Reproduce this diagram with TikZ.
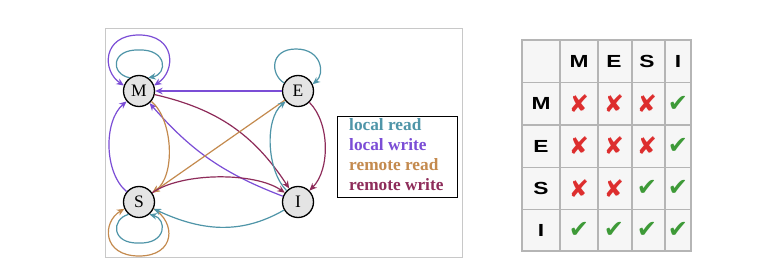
\documentclass[tikz,border=0pt]{standalone}
\usepackage{fontspec}
\setmainfont{Liberation Serif}
\newfontfamily\tabfont[FakeStretch=1.3]{Liberation Sans}
\newfontfamily\symfont{DejaVu Sans}
\usetikzlibrary{arrows.meta}
\definecolor{lrc}{HTML}{4F95A8}
\definecolor{lwc}{HTML}{7B4DD6}
\definecolor{rrc}{HTML}{C48A4E}
\definecolor{rwc}{HTML}{8E2C5A}
\definecolor{nodefill}{HTML}{E4E4E4}
\definecolor{cellfill}{HTML}{F6F6F6}
\definecolor{gridc}{HTML}{B5B5B5}
\definecolor{framec}{HTML}{C8C8C8}
\definecolor{okc}{HTML}{3E9A38}
\definecolor{noc}{HTML}{DD2E2E}
\begin{document}
\begin{tikzpicture}[x=1pt,y=1pt,
  st/.style={circle,draw=black,line width=1.3pt,fill=nodefill,minimum size=31pt,inner sep=0pt,font=\fontsize{17.5}{17.5}\selectfont},
  edge/.style={line width=1.2pt,-{Stealth[length=7.5pt,width=6.5pt]}},
  lr/.style={edge,color=lrc},
  lw/.style={edge,color=lwc},
  rr/.style={edge,color=rrc},
  rw/.style={edge,color=rwc},
  legtext/.style={anchor=west,inner sep=0pt,font=\bfseries\fontsize{17.3}{17.3}\selectfont},
  hdr/.style={inner sep=0pt,font=\tabfont\bfseries\fontsize{17.5}{17.5}\selectfont},
  yes/.style={inner sep=0pt,text=okc,font=\symfont\fontsize{24}{24}\selectfont},
  no/.style={inner sep=0pt,text=noc,font=\symfont\fontsize{24}{24}\selectfont}
]
\useasboundingbox (0,0) rectangle (764,279);
\fill[white] (0,0) rectangle (764,279);

% left panel frame
\draw[framec,line width=1pt] (105,22) rectangle (462,250);

% states
\node[st] (M) at (139,188) {M};
\node[st] (E) at (298,188) {E};
\node[st] (S) at (139,77) {S};
\node[st] (I) at (298,77) {I};

% self loops
\draw[lr] (M.125) .. controls ([shift={(-29,17)}]M.center) and ([shift={(-28,42)}]M.center) .. ([shift={(0,41)}]M.center)
  .. controls ([shift={(28,42)}]M.center) and ([shift={(29,17)}]M.center) .. (M.55);
\draw[lw,{Stealth[length=7.5pt,width=6.5pt]}-{Stealth[length=7.5pt,width=6.5pt]}] (M.20) .. controls ([shift={(37,20)}]M.center) and ([shift={(37,56)}]M.center) .. ([shift={(0,56)}]M.center)
  .. controls ([shift={(-37,56)}]M.center) and ([shift={(-37,20)}]M.center) .. (M.160);
\draw[lr] (E.150) .. controls ([shift={(-28,17)}]E.center) and ([shift={(-28,42)}]E.center) .. ([shift={(-2,42)}]E.center)
  .. controls ([shift={(24,42)}]E.center) and ([shift={(27,17)}]E.center) .. (E.25);
\draw[lr] (S.-130) .. controls ([shift={(-28,-17)}]S.center) and ([shift={(-28,-42)}]S.center) .. ([shift={(0,-41)}]S.center)
  .. controls ([shift={(28,-42)}]S.center) and ([shift={(28,-17)}]S.center) .. (S.-50);
\draw[rr] (S.-25) .. controls ([shift={(37,-20)}]S.center) and ([shift={(37,-54)}]S.center) .. ([shift={(0,-54)}]S.center)
  .. controls ([shift={(-37,-54)}]S.center) and ([shift={(-37,-20)}]S.center) .. (S.-155);

% transitions
\draw[lw] (E) -- (M);
\draw[rw] (M) to[bend left=22] (I);
\draw[lw] (I) to[bend left=14] (M);
\draw[rr] (E) -- (S);
\draw[rr] (M) to[out=-40,in=35,looseness=0.8] (S);
\draw[lw] (S) to[out=140,in=-140,looseness=0.85] (M);
\draw[rw] (E) to[out=-45,in=45,looseness=0.85] (I);
\draw[lr] (I) to[out=135,in=-140,looseness=0.8] (E);
\draw[rw] (S) to[out=35,in=145,looseness=0.7] (I);
\draw[lr] (I) to[out=-150,in=-25] (S);

% legend
\draw[black,line width=0.8pt] (337,82) rectangle (457,163);
\node[legtext,text=lrc] (l1) at (349,154) {local read};
\node[legtext,text=lwc] (l2) at (349,134) {local write};
\node[legtext,text=rrc] (l3) at (349,114) {remote read};
\node[legtext,text=rwc] (l4) at (349,94.5) {remote write};

% table
\draw[gridc,line width=1.2pt,fill=cellfill] (522,28) rectangle (691,239);
\foreach \xx in {560,598,632,665} \draw[gridc,line width=1.2pt] (\xx,28) -- (\xx,239);
\foreach \yy in {196.3,154,111.7,69.7} \draw[gridc,line width=1.2pt] (522,\yy) -- (691,\yy);

\node[hdr] (hM) at (579,217.7) {M};
\node[hdr] (hE) at (614,217.7) {E};
\node[hdr] (hS) at (647,217.7) {S};
\node[hdr] (hI) at (678,217.7) {I};
\node[hdr] (rM) at (541,175.2) {M};
\node[hdr] (rE) at (541,132.9) {E};
\node[hdr] (rS) at (541,90.7) {S};
\node[hdr] (rI) at (541,48.9) {I};

\node[no]  (c11) at (579,175.2) {✘};
\node[no]  (c12) at (614,175.2) {✘};
\node[no]  (c13) at (647,175.2) {✘};
\node[yes] (c14) at (678,175.2) {✔};
\node[no]  (c21) at (579,132.9) {✘};
\node[no]  (c22) at (614,132.9) {✘};
\node[no]  (c23) at (647,132.9) {✘};
\node[yes] (c24) at (678,132.9) {✔};
\node[no]  (c31) at (579,90.7) {✘};
\node[no]  (c32) at (614,90.7) {✘};
\node[yes] (c33) at (647,90.7) {✔};
\node[yes] (c34) at (678,90.7) {✔};
\node[yes] (c41) at (579,48.9) {✔};
\node[yes] (c42) at (614,48.9) {✔};
\node[yes] (c43) at (647,48.9) {✔};
\node[yes] (c44) at (678,48.9) {✔};
\end{tikzpicture}
\end{document}
